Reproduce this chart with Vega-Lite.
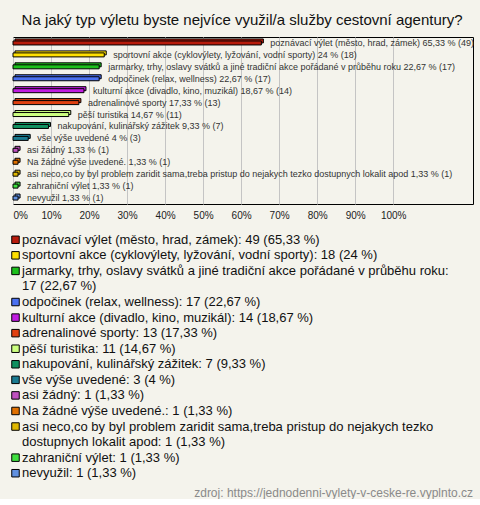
{
  "$schema": "https://vega.github.io/schema/vega-lite/v6.json",
  "background": "#F4F3EC",
  "padding": {"left": 9, "top": 12, "right": 9, "bottom": 0},
  "title": {"text": "Na jaký typ výletu byste nejvíce využil/a služby cestovní agentury?", "font": "Liberation Sans", "fontSize": 15, "fontWeight": "normal", "color": "#111111", "anchor": "middle", "offset": 9},
  "config": {"view": {"stroke": null}, "font": "Liberation Sans"},
  "spacing": 11,
  "datasets": {
    "answers": [
      {"cat": "poznávací výlet (město, hrad, zámek)", "n": 49, "pct": 65.33},
      {"cat": "sportovní akce (cyklovýlety, lyžování, vodní sporty)", "n": 18, "pct": 24},
      {"cat": "jarmarky, trhy, oslavy svátků a jiné tradiční akce pořádané v průběhu roku", "n": 17, "pct": 22.67},
      {"cat": "odpočinek (relax, wellness)", "n": 17, "pct": 22.67},
      {"cat": "kulturní akce (divadlo, kino, muzikál)", "n": 14, "pct": 18.67},
      {"cat": "adrenalinové sporty", "n": 13, "pct": 17.33},
      {"cat": "pěší turistika", "n": 11, "pct": 14.67},
      {"cat": "nakupování, kulinářský zážitek", "n": 7, "pct": 9.33},
      {"cat": "vše výše uvedené", "n": 3, "pct": 4},
      {"cat": "asi žádný", "n": 1, "pct": 1.33},
      {"cat": "Na žádné výše uvedené.", "n": 1, "pct": 1.33},
      {"cat": "asi neco,co by byl problem zaridit sama,treba pristup do nejakych tezko dostupnych lokalit apod", "n": 1, "pct": 1.33},
      {"cat": "zahraniční výlet", "n": 1, "pct": 1.33},
      {"cat": "nevyužil", "n": 1, "pct": 1.33}
    ],
    "legend": [
      {"cat": "poznávací výlet (město, hrad, zámek)", "text": "poznávací výlet (město, hrad, zámek): 49 (65,33 %)"},
      {"cat": "sportovní akce (cyklovýlety, lyžování, vodní sporty)", "text": "sportovní akce (cyklovýlety, lyžování, vodní sporty): 18 (24 %)"},
      {"cat": "jarmarky, trhy, oslavy svátků a jiné tradiční akce pořádané v průběhu roku", "text": "jarmarky, trhy, oslavy svátků a jiné tradiční akce pořádané v průběhu roku:"},
      {"cat": null, "text": "17 (22,67 %)"},
      {"cat": "odpočinek (relax, wellness)", "text": "odpočinek (relax, wellness): 17 (22,67 %)"},
      {"cat": "kulturní akce (divadlo, kino, muzikál)", "text": "kulturní akce (divadlo, kino, muzikál): 14 (18,67 %)"},
      {"cat": "adrenalinové sporty", "text": "adrenalinové sporty: 13 (17,33 %)"},
      {"cat": "pěší turistika", "text": "pěší turistika: 11 (14,67 %)"},
      {"cat": "nakupování, kulinářský zážitek", "text": "nakupování, kulinářský zážitek: 7 (9,33 %)"},
      {"cat": "vše výše uvedené", "text": "vše výše uvedené: 3 (4 %)"},
      {"cat": "asi žádný", "text": "asi žádný: 1 (1,33 %)"},
      {"cat": "Na žádné výše uvedené.", "text": "Na žádné výše uvedené.: 1 (1,33 %)"},
      {"cat": "asi neco,co by byl problem zaridit sama,treba pristup do nejakych tezko dostupnych lokalit apod", "text": "asi neco,co by byl problem zaridit sama,treba pristup do nejakych tezko"},
      {"cat": null, "text": "dostupnych lokalit apod: 1 (1,33 %)"},
      {"cat": "zahraniční výlet", "text": "zahraniční výlet: 1 (1,33 %)"},
      {"cat": "nevyužil", "text": "nevyužil: 1 (1,33 %)"}
    ]
  },
  "vconcat": [
    {
      "width": 460,
      "height": 167,
      "view": {"stroke": "#000000", "strokeWidth": 1},
      "data": {"name": "answers"},
      "transform": [
        {"calculate": "datum.cat + ' ' + replace(toString(datum.pct), '.', ',') + ' % (' + datum.n + ')'", "as": "label"}
      ],
      "encoding": {
        "y": {"field": "cat", "type": "nominal", "sort": null, "axis": null, "scale": {"paddingInner": 0, "paddingOuter": 0}},
        "x": {
          "field": "pct", "type": "quantitative",
          "scale": {"domain": [0, 121], "nice": false, "zero": true},
          "axis": {"values": [0, 10, 20, 30, 40, 50, 60, 70, 80, 90, 100], "labelExpr": "datum.value + '%'", "title": null, "ticks": false, "domain": false, "grid": true, "gridColor": "#C4C4C4", "gridOpacity": 1, "labelFontSize": 10, "labelColor": "#222222", "labelPadding": 6, "labelFlush": true}
        }
      },
      "layer": [
        {
          "mark": {"type": "bar", "size": 4, "xOffset": 2, "yOffset": -2, "stroke": "#000000", "strokeWidth": 1, "opacity": 1},
          "encoding": {
            "color": {"field": "cat", "type": "nominal", "legend": null, "scale": {"domain": ["poznávací výlet (město, hrad, zámek)", "sportovní akce (cyklovýlety, lyžování, vodní sporty)", "jarmarky, trhy, oslavy svátků a jiné tradiční akce pořádané v průběhu roku", "odpočinek (relax, wellness)", "kulturní akce (divadlo, kino, muzikál)", "adrenalinové sporty", "pěší turistika", "nakupování, kulinářský zážitek", "vše výše uvedené", "asi žádný", "Na žádné výše uvedené.", "asi neco,co by byl problem zaridit sama,treba pristup do nejakych tezko dostupnych lokalit apod", "zahraniční výlet", "nevyužil"], "range": ["#B81C0C", "#FFE000", "#1CC01C", "#4A70F0", "#C01CE0", "#E04010", "#CCFF80", "#109060", "#1A7A90", "#C050C0", "#E07000", "#E0B800", "#40E040", "#6090E0"]}}
          }
        },
        {
          "mark": {"type": "bar", "size": 4, "stroke": "#000000", "strokeWidth": 1, "opacity": 1},
          "encoding": {
            "color": {"field": "cat", "type": "nominal", "legend": null}
          }
        },
        {
          "mark": {"type": "text", "align": "left", "dx": 9, "fontSize": 9, "color": "#333333"},
          "encoding": {"text": {"field": "label"}}
        }
      ]
    },
    {
      "width": 460,
      "height": 249,
      "data": {"name": "legend"},
      "title": {"text": "zdroj: https://jednodenni-vylety-v-ceske-re.vyplnto.cz", "orient": "bottom", "anchor": "end", "fontSize": 12, "fontWeight": "normal", "color": "#8A8A8A", "offset": 7},
      "encoding": {
        "y": {"field": "text", "type": "nominal", "sort": null, "axis": null, "scale": {"paddingInner": 0, "paddingOuter": 0}},
        "x": {"datum": 0, "type": "quantitative", "scale": {"domain": [0, 1]}, "axis": null}
      },
      "layer": [
        {
          "mark": {"type": "text", "align": "left", "dx": 9, "fontSize": 13, "color": "#111111"},
          "encoding": {"text": {"field": "text"}}
        },
        {
          "transform": [{"filter": "datum.cat != null"}],
          "mark": {"type": "square", "size": 56, "xOffset": 2.5, "stroke": "#000000", "strokeWidth": 1, "opacity": 1, "filled": true},
          "encoding": {
            "color": {"field": "cat", "type": "nominal", "legend": null}
          }
        }
      ]
    }
  ]
}
